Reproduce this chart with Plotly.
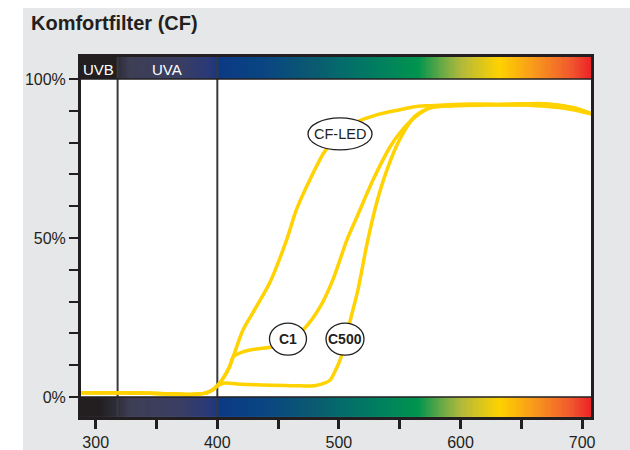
import numpy as np
import plotly.graph_objects as go

# ---------------- data ----------------
title_text = "Komfortfilter (CF)"

cf_led_wl = [288, 320, 345, 378, 390, 396, 400, 405, 410, 413, 421, 432, 443, 457, 465, 476, 488, 501, 515, 531, 550, 561, 575, 590, 610, 630, 650, 670, 690, 708]
cf_led_t = [1.3, 1.3, 1.2, 0.8, 1.2, 2.2, 3.5, 6.0, 9.4, 12.6, 21.0, 28.3, 35.8, 49.4, 58.8, 68.2, 77.0, 82.7, 86.5, 88.7, 90.3, 91.2, 91.6, 91.9, 92.1, 92.0, 91.8, 91.4, 90.5, 89.0]

c1_wl = [288, 320, 345, 378, 390, 396, 400, 405, 410, 413, 421, 432, 445, 458, 472, 484.5, 495, 506.6, 514.8, 528, 542, 550, 562.6, 575, 590, 610, 630, 650, 665, 680, 695, 708]
c1_t = [1.3, 1.3, 1.2, 0.8, 1.2, 2.2, 3.5, 6.0, 9.4, 12.6, 14.2, 15.1, 15.7, 17.5, 21.7, 28.3, 36.8, 49.4, 56.6, 68.2, 78.6, 83.0, 88.0, 90.9, 91.6, 91.9, 92.0, 92.2, 92.3, 91.8, 90.8, 89.0]

c500_wl = [288, 320, 345, 378, 390, 396, 400, 406, 420, 435, 455, 468, 480, 488.6, 492.7, 500.9, 505, 509, 515.6, 523, 531, 539.5, 550, 562.6, 575, 600, 630, 650, 668, 685, 700, 708]
c500_t = [1.3, 1.3, 1.2, 0.8, 1.2, 2.2, 3.5, 4.4, 4.0, 3.8, 3.6, 3.5, 3.5, 4.4, 5.3, 11.6, 17.0, 23.6, 33.6, 48.0, 61.0, 71.4, 81.0, 88.3, 90.9, 91.6, 91.8, 91.9, 92.1, 91.4, 90.0, 89.0]

label_names = ["CF-LED", "C1", "C500"]
label_wl = [500.9, 458.1, 505.0]
label_t = [82.7, 18.2, 18.2]
label_w = [64, 37, 38]
label_bold = [False, True, True]

uv_bounds = [318, 400]
uv_names = ["UVB", "UVA"]
uv_name_wl = [302, 358.8]

x_tickvals = [300, 350, 400, 450, 500, 550, 600, 650, 700]
x_ticktext = ["300", "", "400", "", "500", "", "600", "", "700"]
y_tickvals = [0, 10, 20, 30, 40, 50, 60, 70, 80, 90, 100]
y_ticktext = ["0%", "", "", "", "", "50%", "", "", "", "", "100%"]

x_range = [287.9, 707.3]
y_range = [-6.3, 106.9]

spec_wl_bottom = [287.9, 303, 318, 328, 370, 395, 402, 440, 480, 500, 525, 565, 585, 600, 632, 663, 690, 707.3]
spec_wl_top = [287.9, 317.5, 318.5, 328, 370, 395, 402, 440, 480, 500, 525, 565, 585, 600, 632, 663, 690, 707.3]
spec_col = ["#231f20", "#231f20", "#2e2d3b", "#3e3e54", "#393e63", "#283879", "#0b3a85", "#0a4681", "#0a5a70", "#056a6c", "#007a63", "#00944f", "#6aaa45", "#b0b83c", "#ffd200", "#f7941d", "#f15a2d", "#ec2227"]

INK = "#231f20"
YELLOW = "#ffd200"
GRAY_BG = "#e6e7e8"
FONT = "Liberation Sans, Arial, sans-serif"

fig = go.Figure()

# spectrum bars
edges = np.linspace(x_range[0], x_range[1], 421)
centers = (edges[:-1] + edges[1:]) / 2


def cscale(stops):
    lo, hi = x_range
    return [[(w - lo) / (hi - lo), c] for w, c in zip(stops, spec_col)]


for stops, yb in [(spec_wl_top, [100, y_range[1]]), (spec_wl_bottom, [y_range[0], 0])]:
    fig.add_trace(go.Heatmap(
        x=edges, y=yb, z=[centers], zmin=x_range[0], zmax=x_range[1],
        colorscale=cscale(stops), showscale=False, hoverinfo="skip"))

# UV boundary lines
for b in uv_bounds:
    fig.add_trace(go.Scatter(x=[b, b], y=y_range, mode="lines",
                             line=dict(color="#3a3a3a", width=2), hoverinfo="skip", showlegend=False))

# curves
for wl, t in [(c500_wl, c500_t), (c1_wl, c1_t), (cf_led_wl, cf_led_t)]:
    fig.add_trace(go.Scatter(x=wl, y=t, mode="lines", line=dict(color=YELLOW, width=3.5, shape="spline", smoothing=0.7),
                             hoverinfo="skip", showlegend=False))

shapes = []
# separators between bars and plot area
for yv in [0, 100]:
    shapes.append(dict(type="line", xref="paper", x0=0, x1=1, yref="y", y0=yv, y1=yv,
                       line=dict(color=INK, width=1.5), layer="above"))
# white page margins (top and left strips)
shapes.append(dict(type="rect", xref="paper", yref="paper",
                   x0=(0 - 81) / 510, x1=(23 - 81) / 510, y0=(417 - 460) / 360, y1=(417 + 10) / 360,
                   fillcolor="white", line=dict(width=0), layer="below"))
shapes.append(dict(type="rect", xref="paper", yref="paper",
                   x0=(0 - 81) / 510, x1=(640 - 81) / 510, y0=(417 - 8) / 360, y1=(417 + 10) / 360,
                   fillcolor="white", line=dict(width=0), layer="below"))
# label ellipses
for name, lx, ly, w in zip(label_names, label_wl, label_t, label_w):
    shapes.append(dict(type="circle", xref="x", yref="y", xsizemode="pixel", ysizemode="pixel",
                       xanchor=lx, yanchor=ly, x0=-w / 2, x1=w / 2, y0=-16, y1=16,
                       fillcolor="white", line=dict(color=INK, width=1.3), layer="above"))

annotations = []
for name, lx, ly, bold in zip(label_names, label_wl, label_t, label_bold):
    annotations.append(dict(x=lx, y=ly, xref="x", yref="y", showarrow=False,
                            text=f"<b>{name}</b>" if bold else name,
                            font=dict(family=FONT, size=14 if bold else 14.5, color=INK)))
for name, nx in zip(uv_names, uv_name_wl):
    annotations.append(dict(x=nx, y=103.1, xref="x", yref="y", showarrow=False, text=name,
                            font=dict(family=FONT, size=15, color="white")))

fig.update_layout(
    width=630, height=450,
    margin=dict(l=81, r=39, t=57, b=33),
    paper_bgcolor=GRAY_BG, plot_bgcolor="white",
    showlegend=False,
    title=dict(text=f"<b>{title_text}</b>", x=31 / 630, xref="container", xanchor="left",
               y=1 - 23 / 450, yref="container", yanchor="middle",
               font=dict(family=FONT, size=20, color=INK)),
    shapes=shapes, annotations=annotations,
    xaxis=dict(range=x_range, tickvals=x_tickvals, ticktext=x_ticktext, ticks="outside",
               ticklen=9, tickwidth=3, tickcolor=INK, showgrid=False, zeroline=False,
               showline=True, linewidth=3, linecolor=INK, mirror=True, automargin=False,
               tickfont=dict(family=FONT, size=16, color=INK)),
    yaxis=dict(range=y_range, tickvals=y_tickvals, ticktext=y_ticktext, ticks="outside",
               ticklen=9, tickwidth=2, tickcolor=INK, showgrid=False, zeroline=False,
               showline=True, linewidth=3, linecolor=INK, mirror=True, automargin=False,
               tickfont=dict(family=FONT, size=16, color=INK)),
)

fig.write_html("out.html", config={"displayModeBar": False},
               post_script="document.body.style.margin='0px';")
